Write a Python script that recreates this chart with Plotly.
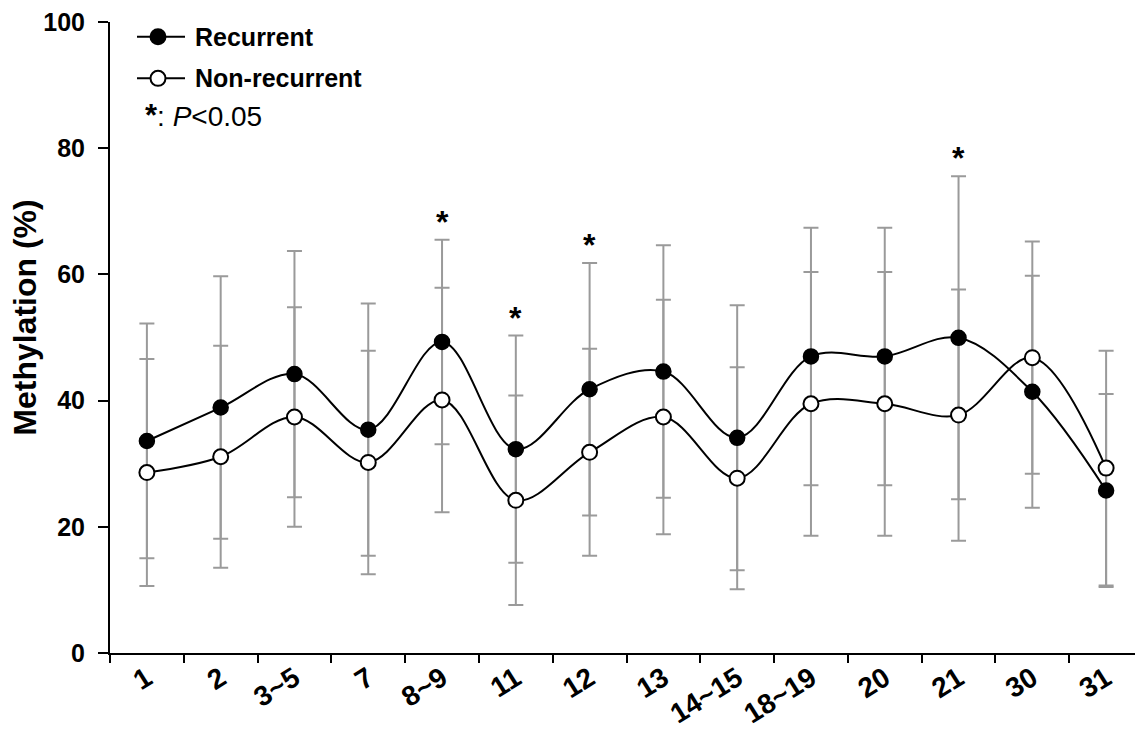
import plotly.graph_objects as go

categories = ["1", "2", "3~5", "7", "8~9", "11", "12", "13", "14~15", "18~19", "20", "21", "30", "31"]
recurrent = [33.6, 38.9, 44.2, 35.4, 49.3, 32.3, 41.8, 44.6, 34.1, 47.0, 47.0, 49.95, 41.4, 25.75]
recurrent_err = [18.6, 20.8, 19.5, 20.0, 16.2, 18.0, 20.0, 20.0, 21.0, 20.4, 20.4, 25.6, 18.4, 15.3]
nonrecurrent = [28.6, 31.1, 37.4, 30.2, 40.1, 24.2, 31.8, 37.4, 27.7, 39.5, 39.5, 37.7, 46.8, 29.3]
nonrecurrent_err = [18.0, 17.6, 17.4, 17.7, 17.8, 16.6, 16.4, 18.6, 17.6, 20.9, 20.9, 19.9, 18.4, 18.6]
significant = ["8~9", "11", "12", "21"]
y_ticks = [0, 20, 40, 60, 80, 100]

FONT = "Liberation Sans, Arial, sans-serif"
ERR_COLOR = "#9a9a9a"

# page body has an 8px margin; figure is sized to fill the rest of the window
OFF = 8
W, H = 1143 - OFF, 729 - OFF
# plot area in page pixels
PL, PR, PT, PB = 110, 1143, 18, 656


def px_x(px):
    return (px - PL) / (PR - PL)


def px_y(py):
    return (PB - py) / (PB - PT)


fig = go.Figure()

# error bars (drawn underneath the lines)
for vals, errs in [(recurrent, recurrent_err), (nonrecurrent, nonrecurrent_err)]:
    fig.add_trace(go.Scatter(
        x=categories, y=vals, mode="markers",
        marker=dict(size=1, opacity=0),
        error_y=dict(type="data", array=errs, visible=True, color=ERR_COLOR,
                     thickness=2, width=7.5),
        showlegend=False, hoverinfo="skip",
    ))

fig.add_trace(go.Scatter(
    x=categories, y=recurrent, mode="lines+markers", name="Recurrent",
    line=dict(color="black", width=2, shape="spline", smoothing=1),
    marker=dict(symbol="circle", size=15, color="black", line=dict(color="black", width=1.5)),
    showlegend=False,
))
fig.add_trace(go.Scatter(
    x=categories, y=nonrecurrent, mode="lines+markers", name="Non-recurrent",
    line=dict(color="black", width=2, shape="spline", smoothing=1),
    marker=dict(symbol="circle", size=15, color="white", line=dict(color="black", width=2)),
    showlegend=False,
))

# significance asterisks
for c in significant:
    i = categories.index(c)
    fig.add_annotation(
        x=i, y=recurrent[i] + recurrent_err[i], xref="x", yref="y",
        text="<b>*</b>", showarrow=False, yanchor="middle", yshift=18,
        font=dict(family=FONT, size=32, color="black"),
    )

# manual legend
shapes = []
legend_rows = [("Recurrent", "black", 33), ("Non-recurrent", "white", 75)]
for label, fill, row_y in legend_rows:
    shapes.append(dict(type="line", xref="paper", yref="paper",
                       x0=px_x(137), x1=px_x(185), y0=px_y(row_y), y1=px_y(row_y),
                       line=dict(color="black", width=2), layer="above"))
    shapes.append(dict(type="circle", xref="paper", yref="paper",
                       xsizemode="pixel", ysizemode="pixel",
                       xanchor=px_x(158), yanchor=px_y(row_y),
                       x0=-7.5, x1=7.5, y0=-7.5, y1=7.5,
                       fillcolor=fill, line=dict(color="black", width=2), layer="above"))
    fig.add_annotation(x=px_x(193), y=px_y(row_y), xref="paper", yref="paper",
                       xanchor="left", yanchor="middle", showarrow=False,
                       text="<b>%s</b>" % label,
                       font=dict(family=FONT, size=25, color="black"))
fig.add_annotation(x=px_x(143), y=px_y(113), xref="paper", yref="paper",
                   xanchor="left", yanchor="middle", showarrow=False,
                   text="<b><span style='font-size:31px'>*</span></b>: <i>P</i>&lt;0.05",
                   font=dict(family=FONT, size=28, color="black"))

# y-axis title
fig.add_annotation(x=px_x(25), y=px_y(317), xref="paper", yref="paper",
                   xanchor="center", yanchor="middle", showarrow=False, textangle=-90,
                   text="<b>Methylation (%)</b>",
                   font=dict(family=FONT, size=32, color="black"))

fig.update_layout(
    width=W, height=H,
    margin=dict(l=PL - OFF, r=W - (PR - OFF), t=PT - OFF, b=H - (PB - OFF)),
    paper_bgcolor="white", plot_bgcolor="white",
    shapes=shapes,
    showlegend=False,
    font=dict(family=FONT, color="black"),
)

fig.update_xaxes(
    type="category", range=[-0.5, len(categories) - 0.5],
    tickson="boundaries", ticks="outside", ticklen=8, tickwidth=2, tickcolor="black",
    showline=True, linecolor="black", linewidth=2, showgrid=False, zeroline=False,
    tickangle=-32, ticklabelstandoff=-4,
    tickfont=dict(family=FONT, size=28, color="black", weight="bold"),
)
fig.update_yaxes(
    range=[0, 100], tickvals=y_ticks, ticks="outside", ticklen=10, tickwidth=2,
    tickcolor="black", showline=True, linecolor="black", linewidth=2,
    showgrid=False, zeroline=False, ticklabelstandoff=8, ticklabeloverflow="allow",
    tickfont=dict(family=FONT, size=25, color="black", weight="bold"),
)

fig.write_html("out.html")
